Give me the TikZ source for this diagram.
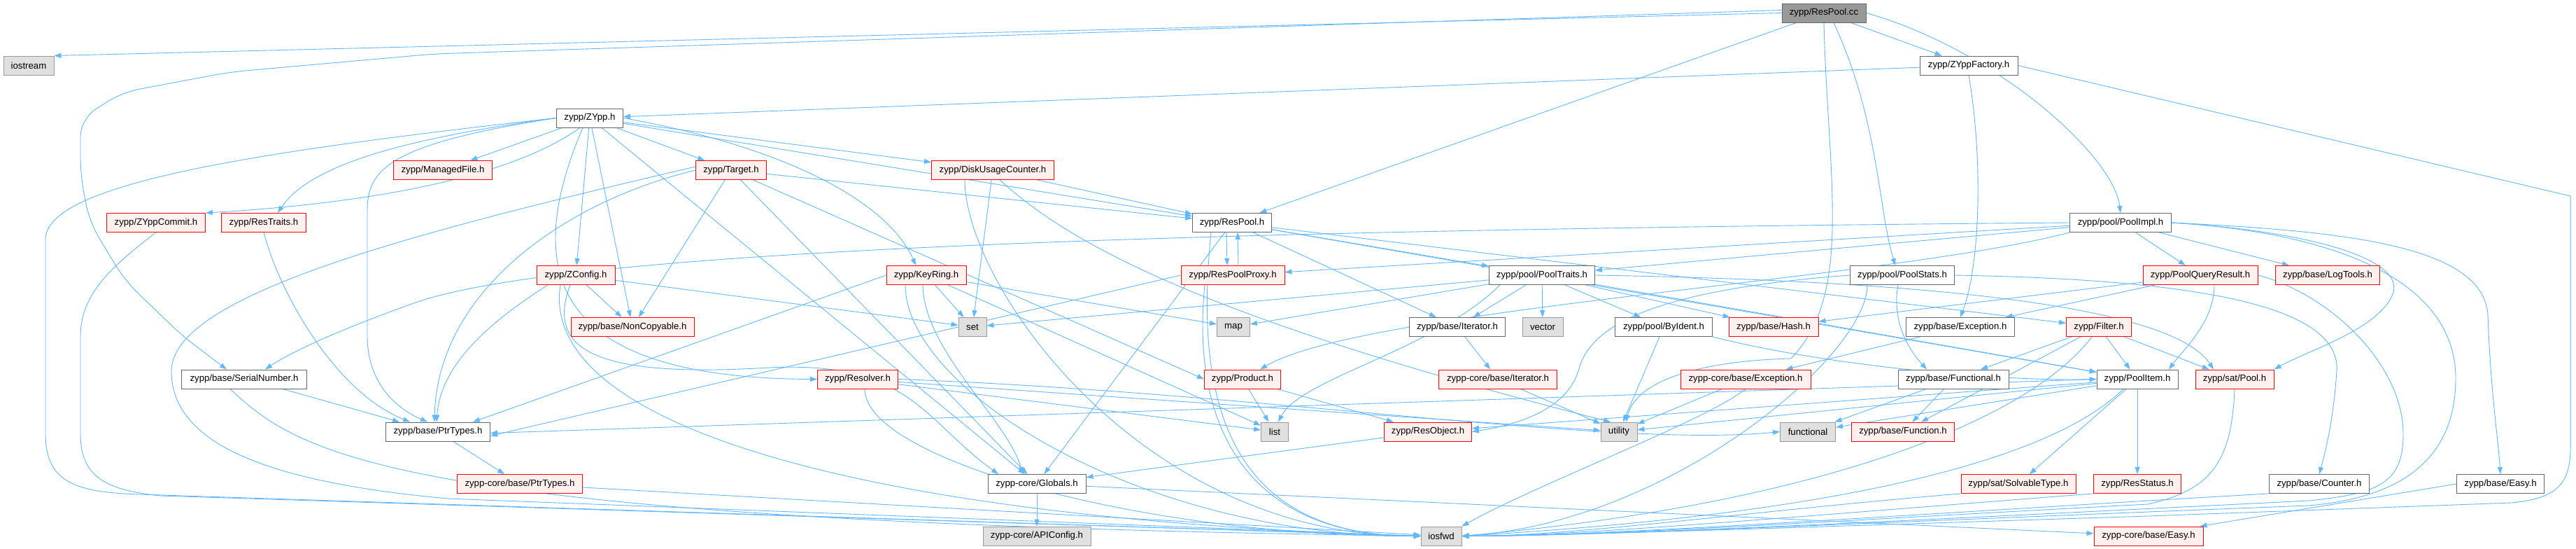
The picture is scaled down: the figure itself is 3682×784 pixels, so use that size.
\documentclass[tikz,border=0pt]{standalone}
\usepackage{fontspec}
\setmainfont{Liberation Sans}
\usetikzlibrary{arrows.meta}
\pgfdeclarelayer{bg}
\pgfsetlayers{bg,main}
\definecolor{edgec}{HTML}{63B8FF}
\definecolor{sysfill}{HTML}{E0E0E0}
\definecolor{sysdraw}{HTML}{999999}
\definecolor{trfill}{HTML}{FFF0F0}
\definecolor{trdraw}{HTML}{FF0000}
\definecolor{nodraw}{HTML}{666666}
\definecolor{rootfill}{HTML}{999999}
\begin{document}
\begin{tikzpicture}[x=1pt,y=-1pt,
 box/.style={rectangle, minimum height=27pt, inner xsep=2pt, inner ysep=0pt, line width=0.9pt, font=\fontsize{13.2pt}{15pt}\selectfont, text=black},
 normbox/.style={box, draw=nodraw, fill=white},
 sysbox/.style={box, draw=sysdraw, fill=sysfill},
 trbox/.style={box, draw=trdraw, fill=trfill},
 rootbox/.style={box, draw=nodraw, fill=rootfill},
 mw/.style={minimum width=#1},
 edge/.style={draw=edgec, line width=0.9pt, -{Triangle[length=10pt,width=7pt]}},
]
\useasboundingbox (0,0) rectangle (3682,784);
% nodes
\node[rootbox, mw=120pt] (root) at (2607,18.5) {zypp/ResPool.cc};
\node[sysbox, mw=72pt] (iostream) at (41,93.5) {iostream};
\node[normbox, mw=140pt] (zfac) at (2814,93.5) {zypp/ZYppFactory.h};
\node[normbox, mw=95pt] (zypp) at (843,168.5) {zypp/ZYpp.h};
\node[trbox, mw=141pt] (mfile) at (633,243) {zypp/ManagedFile.h};
\node[trbox, mw=101pt] (target) at (1045,243) {zypp/Target.h};
\node[trbox, mw=175pt] (duc) at (1419,243) {zypp/DiskUsageCounter.h};
\node[trbox, mw=141pt] (commit) at (223,318) {zypp/ZYppCommit.h};
\node[trbox, mw=121pt] (restraits) at (377,318) {zypp/ResTraits.h};
\node[normbox, mw=113pt] (respool) at (1761,318) {zypp/ResPool.h};
\node[normbox, mw=145pt] (poolimpl) at (3031,318) {zypp/pool/PoolImpl.h};
\node[trbox, mw=112pt] (zconfig) at (823,393) {zypp/ZConfig.h};
\node[trbox, mw=114pt] (keyring) at (1324,393) {zypp/KeyRing.h};
\node[trbox, mw=148pt] (proxy) at (1762,393) {zypp/ResPoolProxy.h};
\node[normbox, mw=151pt] (ptraits) at (2204,393) {zypp/pool/PoolTraits.h};
\node[normbox, mw=149pt] (pstats) at (2719,393) {zypp/pool/PoolStats.h};
\node[trbox, mw=164pt] (pqr) at (3145,393) {zypp/PoolQueryResult.h};
\node[trbox, mw=149pt] (logtools) at (3327,393) {zypp/base/LogTools.h};
\node[trbox, mw=176pt] (noncopy) at (904,467) {zypp/base/NonCopyable.h};
\node[sysbox, mw=40pt] (set) at (1390,467) {set};
\node[sysbox, mw=47pt] (map) at (1763,467) {map};
\node[normbox, mw=137pt] (iter) at (2083,467) {zypp/base/Iterator.h};
\node[sysbox, mw=58pt] (vector) at (2205,467) {vector};
\node[normbox, mw=139pt] (byident) at (2378,467) {zypp/pool/ByIdent.h};
\node[trbox, mw=128pt] (hash) at (2535,467) {zypp/base/Hash.h};
\node[normbox, mw=155pt] (exc) at (2802,467) {zypp/base/Exception.h};
\node[trbox, mw=93pt] (filter) at (3000,467) {zypp/Filter.h};
\node[normbox, mw=179pt] (serial) at (349,541.5) {zypp/base/SerialNumber.h};
\node[trbox, mw=115pt] (resolver) at (1226,541.5) {zypp/Resolver.h};
\node[trbox, mw=109pt] (product) at (1776,541.5) {zypp/Product.h};
\node[trbox, mw=169pt] (citer) at (2141,541.5) {zypp-core/base/Iterator.h};
\node[trbox, mw=186pt] (cexc) at (2495,541.5) {zypp-core/base/Exception.h};
\node[normbox, mw=158pt] (functionalh) at (2792,541.5) {zypp/base/Functional.h};
\node[normbox, mw=116pt] (poolitem) at (3055,541.5) {zypp/PoolItem.h};
\node[trbox, mw=112pt] (satpool) at (3194,541.5) {zypp/sat/Pool.h};
\node[normbox, mw=149pt] (ptrtypes) at (626,616.5) {zypp/base/PtrTypes.h};
\node[sysbox, mw=39pt] (list) at (1822,616.5) {list};
\node[trbox, mw=125pt] (resobj) at (2041,616.5) {zypp/ResObject.h};
\node[sysbox, mw=52pt] (utility) at (2314,616.5) {utility};
\node[sysbox, mw=79pt] (functional) at (2584,616.5) {functional};
\node[trbox, mw=147pt] (function) at (2720,616.5) {zypp/base/Function.h};
\node[trbox, mw=179pt] (cptr) at (743,691) {zypp-core/base/PtrTypes.h};
\node[normbox, mw=140pt] (globals) at (1482,691) {zypp-core/Globals.h};
\node[trbox, mw=164pt] (solvtype) at (2885,691) {zypp/sat/SolvableType.h};
\node[trbox, mw=125pt] (resstatus) at (3055,691) {zypp/ResStatus.h};
\node[normbox, mw=143pt] (counter) at (3315,691) {zypp/base/Counter.h};
\node[normbox, mw=125pt] (easy) at (3574,691) {zypp/base/Easy.h};
\node[sysbox, mw=154pt] (apiconfig) at (1482,765.5) {zypp-core/APIConfig.h};
\node[sysbox, mw=58pt] (iosfwd) at (2060,765.5) {iosfwd};
\node[trbox, mw=156pt] (ceasy) at (3071,765.5) {zypp-core/base/Easy.h};

\begin{pgfonlayer}{bg}
\fill[white] (0,0) rectangle (3682,784);
% root
\draw[edge] (root.west) -- (iostream.north east);
\draw[edge, rounded corners=25pt] ([yshift=4pt]root.west) -- (620,77) -- (328,103) -- (174,132) -- (115,170) -- (115,250) -- (128,317) -- (178,400) -- (261,480) -- ([xshift=-25pt]serial.north);
\draw[edge] (root) -- (zfac);
\draw[edge] (root) -- (respool);
\draw[edge] (root.east) .. controls (2850,70) and (3020,220) .. (poolimpl.north);
\draw[edge] ([xshift=14pt]root.south) .. controls (2685,170) and (2685,300) .. ([xshift=-10pt]pstats.north);
\draw[edge] (root.south) .. controls (2612,250) and (2650,420) .. (2560,512) .. controls (2440,515) and (2340,540) .. ([xshift=10pt]utility.north);
% ZYppFactory
\draw[edge] (zfac) -- (zypp);
\draw[edge] (zfac.south) .. controls (2835,230) and (2830,380) .. (exc.north);
\draw[edge] (zfac.east) -- (3674,280) -- (3674,640) .. controls (3674,695) and (3650,712) .. (3590,718) -- (3070,737) .. controls (2600,752) and (2300,763) .. (iosfwd.east);
% ZYpp
\draw[edge] (zypp) -- (mfile);
\draw[edge] (zypp) -- (target);
\draw[edge] (zypp) -- (duc);
\draw[edge] (zypp) -- (zconfig);
\draw[edge] ([xshift=-14pt]zypp.south) .. controls (720,260) and (500,292) .. (commit.north east);
\draw[edge] (zypp.west) .. controls (560,200) and (440,240) .. ([xshift=20pt]restraits.north);
\draw[edge] (zypp.west) .. controls (560,205) and (525,240) .. (525,300) -- (525,480) .. controls (525,550) and (570,585) .. ([xshift=-15pt]ptrtypes.north);
\draw[edge] (zypp.west) .. controls (380,215) and (70,260) .. (65,340) -- (65,620) .. controls (65,690) and (110,703) .. (200,706) -- (iosfwd.west);
\draw[edge] (zypp) -- (noncopy);
\draw[edge] (zypp) -- (globals);
\draw[edge] (zypp) -- (respool);
\draw[edge] (zypp.east) .. controls (1150,215) and (1275,300) .. ([xshift=-15pt]keyring.north);
\draw[edge] ([xshift=-10pt]zypp.south) .. controls (740,400) and (800,540) .. (resolver.west);
% Target
\draw[edge] (target) -- (respool);
\draw[edge] (target) -- (noncopy);
\draw[edge] (target.west) .. controls (800,290) and (625,420) .. ([xshift=-5pt]ptrtypes.north);
\draw[edge] ([yshift=5pt]target.west) .. controls (600,330) and (245,420) .. (245,530) .. controls (245,640) and (400,690) .. (640,712) -- (iosfwd.west);
\draw[edge] (target) -- (globals);
\draw[edge] (target) -- (product.west);
% DiskUsageCounter
\draw[edge] (duc) -- (set);
\draw[edge] (duc) -- (respool);
\draw[edge] ([xshift=10pt]duc.south) .. controls (1520,340) and (1700,450) .. ([xshift=-12pt]utility.north);
\draw[edge] ([xshift=-40pt]duc.south) .. controls +(0,150) and +(-400,0) .. (iosfwd.west);
% ZYppCommit, ResTraits
\draw[edge] (commit.south) .. controls (160,380) and (115,420) .. (115,480) -- (115,620) .. controls (115,680) and (150,700) .. (230,708) -- (iosfwd.west);
\draw[edge] (restraits.south) .. controls (400,420) and (480,560) .. ([xshift=-40pt]ptrtypes.north);
% SerialNumber
\draw[edge] ([xshift=55pt]serial.south) -- ([xshift=-55pt]ptrtypes.north);
\draw[edge] ([xshift=-20pt]serial.south) .. controls (430,650) and (560,745) .. (iosfwd.west);
% ZConfig
\draw[edge] (zconfig) -- (set);
\draw[edge] (zconfig) -- (noncopy);
\draw[edge] ([xshift=-40pt]zconfig.south) .. controls (700,460) and (630,520) .. ([xshift=-2pt]ptrtypes.north);
\draw[edge] ([xshift=-8pt]zconfig.south) .. controls (780,500) and (850,540) .. (1100,525) .. controls (1300,515) and (1320,600) .. ([xshift=-55pt]globals.north);
\draw[edge] ([xshift=-22pt]zconfig.south) .. controls (770,600) and (1200,740) .. (iosfwd.west);
% KeyRing
\draw[edge] (keyring) -- (set);
\draw[edge] (keyring) -- (map);
\draw[edge] (keyring.west) -- ([xshift=50pt]ptrtypes.north);
\draw[edge] ([xshift=-5pt]keyring.south) .. controls (1320,500) and (1440,600) .. ([xshift=-20pt]globals.north);
\draw[edge] ([xshift=-30pt]keyring.south) .. controls +(0,150) and +(-400,0) .. (iosfwd.west);
\draw[edge] (keyring) -- (list);
% Resolver
\draw[edge] (resolver) -- (list);
\draw[edge] (resolver) -- (utility);
\draw[edge] (resolver.east) .. controls (1800,560) and (2300,640) .. (functional.west);
\draw[edge] ([xshift=10pt]resolver.south) .. controls +(0,100) and +(-400,0) .. (iosfwd.west);
% ResPool
\draw[edge] ([xshift=-8pt]respool.south) -- ([xshift=-8pt]proxy.north);
\draw[edge] ([xshift=8pt]proxy.north) -- ([xshift=8pt]respool.south);
\draw[edge] (respool) -- (ptraits);
\draw[edge] (respool) -- (iter);
\draw[edge] (respool) -- (poolitem);
\draw[edge] (respool) -- (filter);
\draw[edge] (respool) -- (globals);
\draw[edge] ([xshift=-30pt]respool.south) .. controls +(-20,200) and +(-300,0) .. (iosfwd.west);
% ResPoolProxy
\draw[edge] (proxy.west) -- ([yshift=-6pt]ptrtypes.east);
\draw[edge] ([xshift=-40pt]proxy.south) .. controls +(-20,200) and +(-250,0) .. (iosfwd.west);
% PoolImpl
\draw[edge] (poolimpl) -- (ptraits);
\draw[edge] (poolimpl) -- (proxy);
\draw[edge] (poolimpl.west) .. controls (1500,330) and (800,365) .. (600,430) .. controls (500,465) and (420,500) .. ([xshift=30pt]serial.north);
\draw[edge] (poolimpl) -- (logtools);
\draw[edge] (poolimpl) -- (pqr);
\draw[edge] (poolimpl.east) .. controls (3300,330) and (3440,370) .. (3420,420) .. controls (3400,470) and (3300,500) .. (satpool.north east);
\draw[edge] (poolimpl.east) .. controls (3350,330) and (3550,350) .. (3556,450) .. controls (3560,560) and (3570,620) .. (easy.north);
\draw[edge] (poolimpl.east) .. controls (3380,335) and (3510,420) .. (3510,540) .. controls (3510,650) and (3440,710) .. (3300,722) .. controls (2700,745) and (2300,765) .. (iosfwd.east);
\draw[edge] (poolimpl.south west) .. controls (2700,400) and (1950,440) .. ([xshift=25pt]product.north);
% PoolTraits
\draw[edge] (ptraits) -- (set);
\draw[edge] (ptraits) -- (map);
\draw[edge] ([xshift=-60pt]ptraits.south) .. controls (2050,500) and (1860,540) .. ([xshift=5pt]list.north);
\draw[edge] (ptraits) -- (vector);
\draw[edge] (ptraits) -- (iter);
\draw[edge] (ptraits) -- (byident);
\draw[edge] (ptraits) -- (hash);
\draw[edge] (ptraits) -- (poolitem);
\draw[edge] (ptraits.east) .. controls (2700,400) and (3100,430) .. ([xshift=-30pt]satpool.north);
% PoolStats
\draw[edge] (pstats.west) .. controls (2350,415) and (2270,470) .. (2256,530) .. controls (2240,580) and (2180,605) .. (resobj.east);
\draw[edge] ([xshift=-6pt]pstats.south) .. controls (2705,450) and (2720,490) .. ([xshift=-38pt]functionalh.north);
\draw[edge] (pstats.east) .. controls (3200,400) and (3345,450) .. (3340,530) .. controls (3335,600) and (3325,640) .. (counter.north);
\draw[edge] ([xshift=-50pt]pstats.south) .. controls +(0,100) and +(300,-20) .. (iosfwd.east);
% Iterators, ByIdent, Exception
\draw[edge] (iter) -- (citer);
\draw[edge] (citer) -- (utility);
\draw[edge] (byident) -- (utility);
\draw[edge] (byident.south east) .. controls (2600,520) and (2850,545) .. (poolitem.west);
\draw[edge] (exc) -- (cexc);
\draw[edge] (cexc.south) .. controls (2440,600) and (2200,690) .. (iosfwd.north east);
\draw[edge] (cexc) -- (utility);
% Filter
\draw[edge] (filter) -- (poolitem);
\draw[edge] (filter) -- (functionalh);
\draw[edge] (filter) -- (function);
\draw[edge] (filter) -- (satpool);
\draw[edge] ([xshift=-10pt]filter.south) .. controls (2900,600) and (2600,720) .. (iosfwd.east);
% Functional
\draw[edge] (functionalh) -- (functional);
\draw[edge] (functionalh) -- (function);
% PoolItem
\draw[edge] (poolitem.west) -- ([yshift=-2pt]ptrtypes.east);
\draw[edge] (poolitem) -- (resobj);
\draw[edge] (poolitem) -- (solvtype);
\draw[edge] (poolitem) -- (resstatus);
\draw[edge] (poolitem) -- (functional);
\draw[edge] (poolitem) -- (utility);
\draw[edge] ([xshift=-20pt]poolitem.south) .. controls (2950,640) and (2700,730) .. (iosfwd.east);
% PoolQueryResult
\draw[edge] ([xshift=20pt]pqr.south) .. controls (3165,460) and (3120,500) .. ([xshift=45pt]poolitem.north);
\draw[edge] (pqr) -- (hash);
\draw[edge] (pqr) -- (exc);
\draw[edge] (pqr.east) .. controls (3330,420) and (3435,520) .. (3435,620) .. controls (3435,690) and (3400,705) .. (3300,715) .. controls (2700,745) and (2300,765) .. (iosfwd.east);
% lower nodes
\draw[edge] (satpool.south) .. controls (3190,660) and (3160,700) .. (3070,720) .. controls (2600,745) and (2300,765) .. (iosfwd.east);
\draw[edge] (solvtype.south west) .. controls (2500,730) and (2250,766) .. (iosfwd.east);
\draw[edge] (resstatus.south west) .. controls (2600,735) and (2250,766) .. (iosfwd.east);
\draw[edge] (counter.south west) .. controls (2800,730) and (2300,766) .. (iosfwd.east);
\draw[edge] (easy.west) -- ([xshift=-5pt]ceasy.north east);
\draw[edge] (product) -- (list);
\draw[edge] (product) -- (resobj);
\draw[edge] (resobj) -- (globals);
\draw[edge] (globals) -- (apiconfig);
\draw[edge] (globals) -- (ceasy);
\draw[edge] (ptrtypes) -- (cptr);
\draw[edge] (cptr) -- (iosfwd);
\end{pgfonlayer}
\end{tikzpicture}
\end{document}
